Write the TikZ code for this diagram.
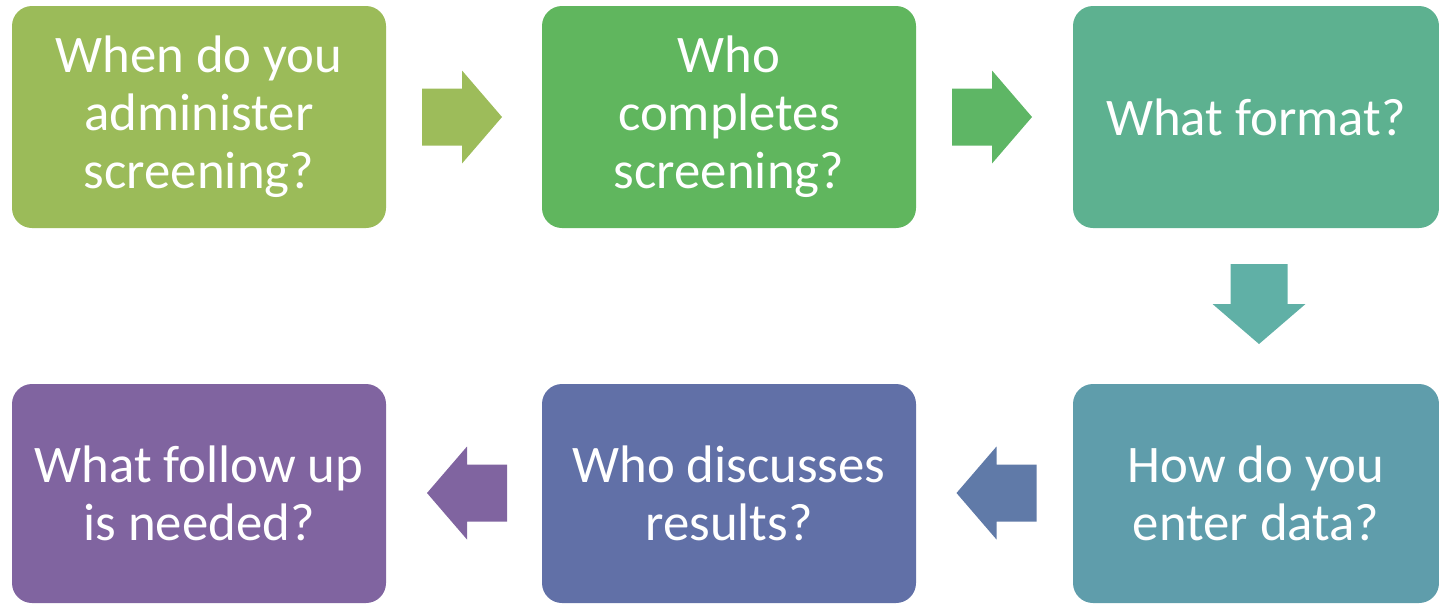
\documentclass[tikz,border=0pt]{standalone}
\usepackage{fontspec}
\setmainfont{Carlito}
\usetikzlibrary{calc}
\definecolor{cA}{RGB}{155,187,89}
\definecolor{cB}{RGB}{96,182,94}
\definecolor{cC}{RGB}{93,177,144}
\definecolor{cD}{RGB}{95,157,171}
\definecolor{cE}{RGB}{97,112,167}
\definecolor{cF}{RGB}{128,100,160}
\definecolor{aA}{RGB}{157,188,90}
\definecolor{aB}{RGB}{94,182,101}
\definecolor{aC}{RGB}{96,176,166}
\definecolor{aD}{RGB}{96,122,168}
\definecolor{aE}{RGB}{128,100,160}
\newcommand{\arrR}[2]{\fill[#2] ($#1+(-40,-28.5)$) -- ($#1+(0,-28.5)$) -- ($#1+(0,-46.5)$) -- ($#1+(40,0)$) -- ($#1+(0,46.5)$) -- ($#1+(0,28.5)$) -- ($#1+(-40,28.5)$) -- cycle;}
\newcommand{\arrL}[2]{\fill[#2] ($#1+(40,-28.5)$) -- ($#1+(0,-28.5)$) -- ($#1+(0,-46.5)$) -- ($#1+(-40,0)$) -- ($#1+(0,46.5)$) -- ($#1+(0,28.5)$) -- ($#1+(40,28.5)$) -- cycle;}
\newcommand{\arrD}[2]{\fill[#2] ($#1+(-28.5,-40)$) -- ($#1+(-28.5,0)$) -- ($#1+(-46.5,0)$) -- ($#1+(0,40)$) -- ($#1+(46.5,0)$) -- ($#1+(28.5,0)$) -- ($#1+(28.5,-40)$) -- cycle;}
\begin{document}
\begin{tikzpicture}[x=1pt,y=-1pt,
  box/.style={rounded corners=20pt, text=white, align=center, inner sep=0pt,
    minimum height=222pt, font=\fontsize{52.8}{58}\selectfont}]
\useasboundingbox (0,0) rectangle (1439,603);
\node[box, fill=cA, minimum width=374pt] (b1) at (199,117) {When do you\\administer\\screening?};
\node[box, fill=cB, minimum width=374pt] (b2) at (729,117) {Who\\completes\\screening?};
\node[box, fill=cC, minimum width=366pt] (b3) at (1256,117) {What format?};
\node[box, fill=cD, minimum width=366pt, minimum height=219pt] (b4) at (1256,493.5) {How do you\\enter data?};
\node[box, fill=cE, minimum width=374pt, minimum height=219pt] (b5) at (729,493.5) {Who discusses\\results?};
\node[box, fill=cF, minimum width=374pt, minimum height=219pt] (b6) at (199,493.5) {What follow up\\is needed?};
\coordinate (a1) at ($(b1.east)!0.5!(b2.west)+(-2,0)$);
\coordinate (a2) at ($(b2.east)!0.5!(b3.west)+(-2.5,0)$);
\coordinate (a3) at (1259,304);
\coordinate (a4) at ($(b5.east)!0.5!(b4.west)+(2,-0.5)$);
\coordinate (a5) at ($(b6.east)!0.5!(b5.west)+(3,-0.5)$);
\arrR{(a1)}{aA}
\arrR{(a2)}{aB}
\arrD{(a3)}{aC}
\arrL{(a4)}{aD}
\arrL{(a5)}{aE}
\end{tikzpicture}
\end{document}
